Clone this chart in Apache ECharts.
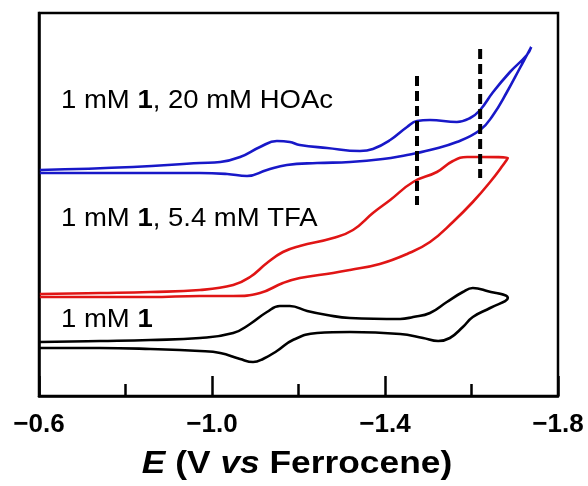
<!DOCTYPE html>
<html>
<head>
<meta charset="utf-8">
<script src="https://cdn.jsdelivr.net/npm/echarts@6/dist/echarts.min.js"></script>
<style>html,body{margin:0;padding:0;background:#fff}#c{width:588px;height:486px}</style>
</head>
<body>
<div id="c"></div>
<script>
// Potential (V vs Fc) and current (arbitrary units)
const blackE = [-0.602,-0.741,-0.857,-0.972,-1.049,-1.088,-1.127,-1.157,-1.180,-1.220,-1.266,-1.319,-1.435,-1.465,-1.504,-1.543,-1.580,-1.603,-1.636,-1.684,
                -1.643,-1.603,-1.580,-1.550,-1.523,-1.488,-1.435,-1.319,-1.243,-1.187,-1.150,-1.118,-1.095,-1.065,-1.019,-0.972,-0.857,-0.741,-0.602];
const blackI = [54,55,56,58,63,72,84,90,90,85,81,78,77,79,83,94,104,108,105,98,
                88,79,69,58,55,58,62,64,63,56,45,37,34,37,43,45,47,48,48];

const redE = [-0.602,-0.741,-0.857,-0.972,-1.049,-1.088,-1.127,-1.164,-1.203,-1.280,-1.326,-1.372,-1.412,-1.465,-1.520,-1.557,-1.590,-1.620,-1.684,
              -1.673,-1.643,-1.603,-1.557,-1.504,-1.451,-1.388,-1.319,-1.280,-1.203,-1.164,-1.111,-1.049,-0.972,-0.857,-0.741,-0.602];
const redI = [102,103,104,106,111,119,133,144,150,158,166,183,196,214,224,235,239,239,238,
              231,214,194,174,154,142,132,126,123,118,113,103,100,100,99,99,99];

const blueE = [-0.602,-0.817,-0.972,-1.019,-1.065,-1.111,-1.150,-1.180,-1.203,-1.266,-1.342,-1.372,-1.412,-1.451,-1.474,-1.504,-1.566,-1.597,-1.620,-1.650,-1.689,-1.728,-1.738,
               -1.712,-1.682,-1.650,-1.620,-1.566,-1.504,-1.474,-1.451,-1.395,-1.319,-1.243,-1.173,-1.127,-1.081,-1.035,-0.972,-0.817,-0.602];
const blueI = [226,229,233,234,239,249,255,254,251,248,245,247,256,269,275,276,274,278,286,304,324,341,349,
               328,304,281,266,254,246,243,241,237,234,233,231,226,220,222,223,223,223];

// Dashed markers
const dash1E = [-1.474, -1.474];
const dash1I = [320, 191];
const dash2E = [-1.620, -1.620];
const dash2I = [347, 218];

const xTicks = [-1.8, -1.4, -1.0, -0.6];

const zip = (a, b) => a.map((v, i) => [v, b[i]]);
const FONT = '"Liberation Sans", Arial, Helvetica, sans-serif';

const chart = echarts.init(document.getElementById('c'));
const curve = (name, E, I, color) => ({
  name, type: 'line', data: zip(E, I), showSymbol: false, smooth: 0.45,
  lineStyle: { color, width: 2.6 }, z: 3, animation: false
});
const dashed = (E, I) => ({
  type: 'line', data: zip(E, I), showSymbol: false,
  lineStyle: { color: '#000', width: 4, type: [10, 5] }, z: 4, animation: false
});

chart.setOption({
  animation: false,
  backgroundColor: '#fff',
  grid: { left: 39, right: 30, top: 13, bottom: 90, show: true, borderColor: '#000', borderWidth: 2.5, backgroundColor: 'transparent' },
  xAxis: {
    type: 'value', inverse: true, min: xTicks[0], max: xTicks[xTicks.length - 1], interval: 0.4,
    axisLine: { show: true, lineStyle: { color: '#000', width: 2.5 } },
    axisTick: { show: true, inside: true, length: 20, lineStyle: { color: '#000', width: 2.5 } },
    minorTick: { show: true, splitNumber: 2, length: 12, lineStyle: { color: '#000', width: 2.5 } },
    splitLine: { show: false }, minorSplitLine: { show: false },
    axisLabel: {
      margin: 16, color: '#000', fontSize: 26, fontWeight: 'bold', fontFamily: FONT,
      formatter: v => (v < 0 ? '\u2212' : '') + Math.abs(v).toFixed(1)
    }
  },
  yAxis: {
    type: 'value', min: 0, max: 383,
    axisLine: { show: true, lineStyle: { color: '#000', width: 2.5 } },
    axisTick: { show: false }, axisLabel: { show: false }, splitLine: { show: false }
  },
  series: [
    curve('1 mM 1', blackE, blackI, '#000000'),
    curve('1 mM 1, 5.4 mM TFA', redE, redI, '#e01515'),
    curve('1 mM 1, 20 mM HOAc', blueE, blueI, '#1818c8'),
    dashed(dash1E, dash1I),
    dashed(dash2E, dash2I)
  ],
  graphic: [
    { type: 'text', x: 61, y: 101, scaleX: 1.1, z: 10,
      style: { text: '1 mM {b|1}, 20 mM HOAc', font: '25px ' + FONT, fill: '#000', verticalAlign: 'middle', align: 'left',
               rich: { b: { fontWeight: 'bold', fontSize: 25, fontFamily: FONT, fill: '#000' } } } },
    { type: 'text', x: 61, y: 219, scaleX: 1.1, z: 10,
      style: { text: '1 mM {b|1}, 5.4 mM TFA', font: '25px ' + FONT, fill: '#000', verticalAlign: 'middle', align: 'left',
               rich: { b: { fontWeight: 'bold', fontSize: 25, fontFamily: FONT, fill: '#000' } } } },
    { type: 'text', x: 61, y: 320, scaleX: 1.1, z: 10,
      style: { text: '1 mM {b|1}', font: '25px ' + FONT, fill: '#000', verticalAlign: 'middle', align: 'left',
               rich: { b: { fontWeight: 'bold', fontSize: 25, fontFamily: FONT, fill: '#000' } } } },
    { type: 'text', x: 297, y: 464, scaleX: 1.14, z: 10,
      style: { text: '{bi|E}{b| (V }{bi|vs}{b| Ferrocene)}', align: 'center', verticalAlign: 'middle', fill: '#000',
               rich: {
                 bi: { fontStyle: 'italic', fontWeight: 'bold', fontSize: 31, fontFamily: FONT, fill: '#000' },
                 b: { fontWeight: 'bold', fontSize: 31, fontFamily: FONT, fill: '#000' }
               } } }
  ]
});
</script>
</body>
</html>
